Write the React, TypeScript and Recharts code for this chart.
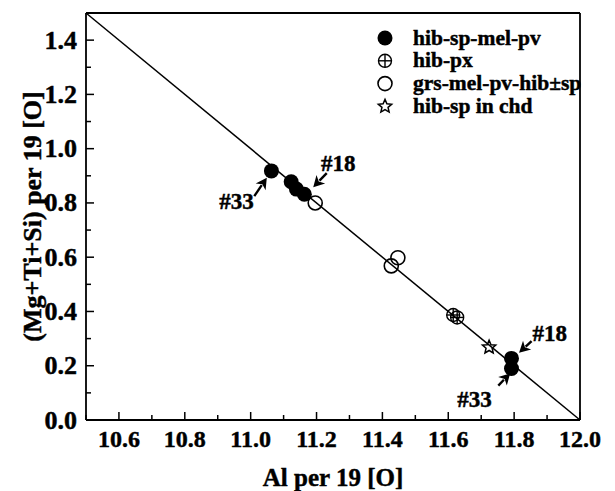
import { ScatterChart, Scatter, XAxis, YAxis, ReferenceLine, ReferenceDot, Legend } from "recharts";

const FONT = "'Liberation Serif', 'Times New Roman', serif";

// axis ticks (every 0.1, labels on every 0.2)
const xTicks = [10.5, 10.6, 10.7, 10.8, 10.9, 11.0, 11.1, 11.2, 11.3, 11.4, 11.5, 11.6, 11.7, 11.8, 11.9, 12.0];
const yTicks = [0.0, 0.1, 0.2, 0.3, 0.4, 0.5, 0.6, 0.7, 0.8, 0.9, 1.0, 1.1, 1.2, 1.3, 1.4, 1.5];

// series
const hibSpMelPv = [
  { x: 11.063, y: 0.918 },
  { x: 11.123, y: 0.878 },
  { x: 11.139, y: 0.851 },
  { x: 11.163, y: 0.832 },
  { x: 11.792, y: 0.227 },
  { x: 11.792, y: 0.19 },
];
const hibPx = [
  { x: 11.615, y: 0.387 },
  { x: 11.627, y: 0.378 },
];
const grsMelPvHibSp = [
  { x: 11.196, y: 0.8 },
  { x: 11.427, y: 0.568 },
  { x: 11.447, y: 0.598 },
];
const hibSpInChd = [{ x: 11.724, y: 0.268 }];

// 1:1 substitution line
const trendLine = [
  { x: 10.5, y: 1.5 },
  { x: 12.0, y: 0.0 },
];

// sample labels and arrows (tail -> head)
const sampleLabels = [
  { text: "#33", x: 10.957, y: 0.804 },
  { text: "#18", x: 11.266, y: 0.945 },
  { text: "#18", x: 11.908, y: 0.32 },
  { text: "#33", x: 11.68, y: 0.074 },
];
const sampleArrows = [
  { x1: 11.011, y1: 0.825, x2: 11.049, y2: 0.893 },
  { x1: 11.231, y1: 0.91, x2: 11.19, y2: 0.858 },
  { x1: 11.853, y1: 0.291, x2: 11.815, y2: 0.248 },
  { x1: 11.752, y1: 0.127, x2: 11.788, y2: 0.172 },
];

const isMajor = (v: number) => Math.round(v * 10) % 2 === 0;

const textStyle = {
  fontFamily: FONT,
  fontWeight: "bold" as const,
  fill: "#000",
  stroke: "#000",
  strokeWidth: 0.45,
};

const BottomTick = (p: any) => {
  const v = p.payload.value;
  const major = isMajor(v);
  return (
    <g>
      <line x1={p.x} y1={p.y} x2={p.x} y2={p.y - (major ? 8 : 5)} stroke="#000" strokeWidth={1.5} />
      {major && (
        <text x={p.x} y={p.y + 27} textAnchor="middle" fontSize={24} {...textStyle}>
          {v.toFixed(1)}
        </text>
      )}
    </g>
  );
};

const TopTick = (p: any) => {
  const major = isMajor(p.payload.value);
  return <line x1={p.x} y1={p.y} x2={p.x} y2={p.y + (major ? 8 : 5)} stroke="#000" strokeWidth={1.5} />;
};

const LeftTick = (p: any) => {
  const v = p.payload.value;
  const major = isMajor(v);
  return (
    <g>
      <line x1={p.x} y1={p.y} x2={p.x + (major ? 8 : 5)} y2={p.y} stroke="#000" strokeWidth={1.5} />
      {major && (
        <text x={p.x - 9} y={p.y + 8.5} textAnchor="end" fontSize={26} {...textStyle}>
          {v.toFixed(1)}
        </text>
      )}
    </g>
  );
};

const RightTick = (p: any) => {
  const major = isMajor(p.payload.value);
  return <line x1={p.x} y1={p.y} x2={p.x - (major ? 8 : 5)} y2={p.y} stroke="#000" strokeWidth={1.5} />;
};

const FilledDot = (p: any) => <circle cx={p.cx} cy={p.cy} r={7.5} fill="#000" />;
const OpenDot = (p: any) => <circle cx={p.cx} cy={p.cy} r={7} fill="none" stroke="#000" strokeWidth={1.6} />;
const CrossDot = (p: any) => (
  <g stroke="#000" strokeWidth={1.4} fill="none">
    <circle cx={p.cx} cy={p.cy} r={6.5} />
    <line x1={p.cx - 6.5} y1={p.cy} x2={p.cx + 6.5} y2={p.cy} />
    <line x1={p.cx} y1={p.cy - 6.5} x2={p.cx} y2={p.cy + 6.5} />
  </g>
);
const starPoints = (cx: number, cy: number, ro: number, ri: number) => {
  const pts: string[] = [];
  for (let i = 0; i < 10; i++) {
    const r = i % 2 === 0 ? ro : ri;
    const a = -Math.PI / 2 + (i * Math.PI) / 5;
    pts.push(`${cx + r * Math.cos(a)},${cy + r * Math.sin(a)}`);
  }
  return pts.join(" ");
};
const StarDot = (p: any) => (
  <polygon points={starPoints(p.cx, p.cy, 7, 3.2)} fill="none" stroke="#000" strokeWidth={1.5} strokeLinejoin="miter" />
);

const Arrow = (p: any) => {
  const { x1, y1, x2, y2 } = p;
  const dx = x2 - x1;
  const dy = y2 - y1;
  const len = Math.sqrt(dx * dx + dy * dy) || 1;
  const ux = dx / len;
  const uy = dy / len;
  const hl = 11;
  const hw = 6;
  const bx = x2 - ux * hl;
  const by = y2 - uy * hl;
  return (
    <g>
      <line x1={x1} y1={y1} x2={bx + ux * 2} y2={by + uy * 2} stroke="#000" strokeWidth={2.4} />
      <polygon
        points={`${x2},${y2} ${bx - uy * hw},${by + ux * hw} ${bx + ux * 3},${by + uy * 3} ${bx + uy * hw},${by - ux * hw}`}
        fill="#000"
      />
    </g>
  );
};

const legendItems = [
  { name: "hib-sp-mel-pv", shape: FilledDot },
  { name: "hib-px", shape: CrossDot },
  { name: "grs-mel-pv-hib\u00b1sp", shape: OpenDot },
  { name: "hib-sp in chd", shape: StarDot },
];

const LegendBox = () => (
  <svg width={240} height={100} style={{ display: "block" }}>
    {legendItems.map((it, i) => {
      const cy = 12 + i * 22.8;
      const S = it.shape;
      return (
        <g key={it.name}>
          <S cx={13} cy={cy} />
          <text x={41} y={cy + 6.5} fontSize={21.5} {...textStyle}>
            {it.name}
          </text>
        </g>
      );
    })}
  </svg>
);

const YTitle = (p: any) => {
  const vb = p.viewBox;
  const cx = 32;
  const cy = vb.y + vb.height / 2;
  return (
    <text
      x={cx}
      y={cy}
      transform={`rotate(-90 ${cx} ${cy})`}
      textAnchor="middle"
      dominantBaseline="central"
      fontSize={26}
      {...textStyle}
    >
      (Mg+Ti+Si) per 19 [O]
    </text>
  );
};

const XTitle = (p: any) => {
  const vb = p.viewBox;
  return (
    <text x={vb.x + vb.width / 2} y={486} textAnchor="middle" fontSize={25} {...textStyle}>
      Al per 19 [O]
    </text>
  );
};

export default function App() {
  return (
    <div style={{ position: "absolute", left: 0, top: 0, width: 615, height: 491, background: "#fff" }}>
      <ScatterChart width={615} height={491} margin={{ top: 0, right: 0, bottom: 0, left: 0 }}>
        <XAxis
          dataKey="x"
          type="number"
          domain={[10.5, 12]}
          ticks={xTicks}
          interval={0}
          height={71}
          tickSize={0}
          tickMargin={0}
          tickLine={false}
          tick={<BottomTick />}
          axisLine={{ stroke: "#000", strokeWidth: 1.8 }}
          label={<XTitle />}
        />
        <XAxis
          xAxisId="top"
          orientation="top"
          type="number"
          domain={[10.5, 12]}
          ticks={xTicks}
          interval={0}
          height={13}
          tickSize={0}
          tickMargin={0}
          tickLine={false}
          tick={<TopTick />}
          axisLine={{ stroke: "#000", strokeWidth: 1.8 }}
        />
        <YAxis
          dataKey="y"
          type="number"
          domain={[0, 1.5]}
          ticks={yTicks}
          interval={0}
          width={86}
          tickSize={0}
          tickMargin={0}
          tickLine={false}
          tick={<LeftTick />}
          axisLine={{ stroke: "#000", strokeWidth: 1.8 }}
          label={<YTitle />}
        />
        <YAxis
          yAxisId="right"
          orientation="right"
          type="number"
          domain={[0, 1.5]}
          ticks={yTicks}
          interval={0}
          width={35}
          tickSize={0}
          tickMargin={0}
          tickLine={false}
          tick={<RightTick />}
          axisLine={{ stroke: "#000", strokeWidth: 1.8 }}
        />
        <Legend
          layout="vertical"
          align="center"
          verticalAlign="middle"
          wrapperStyle={{ position: "absolute", left: 372, top: 26, width: 240, height: 100 }}
          content={() => <LegendBox />}
        />
        <ReferenceLine segment={trendLine} stroke="#000" strokeWidth={1.5} ifOverflow="visible" />
        {sampleArrows.map((a, i) => (
          <ReferenceLine
            key={`arrow-${i}`}
            segment={[
              { x: a.x1, y: a.y1 },
              { x: a.x2, y: a.y2 },
            ]}
            ifOverflow="visible"
            shape={<Arrow />}
          />
        ))}
        {sampleLabels.map((l, i) => (
          <ReferenceDot
            key={`label-${i}`}
            x={l.x}
            y={l.y}
            r={0}
            ifOverflow="visible"
            shape={(p: any) => (
              <text x={p.cx} y={p.cy} textAnchor="middle" dominantBaseline="central" fontSize={23} {...textStyle}>
                {l.text}
              </text>
            )}
          />
        ))}
        <Scatter name="hib-sp-mel-pv" data={hibSpMelPv} shape={<FilledDot />} isAnimationActive={false} />
        <Scatter name="hib-px" data={hibPx} shape={<CrossDot />} isAnimationActive={false} />
        <Scatter name="grs-mel-pv-hib±sp" data={grsMelPvHibSp} shape={<OpenDot />} isAnimationActive={false} />
        <Scatter name="hib-sp in chd" data={hibSpInChd} shape={<StarDot />} isAnimationActive={false} />
      </ScatterChart>
    </div>
  );
}
